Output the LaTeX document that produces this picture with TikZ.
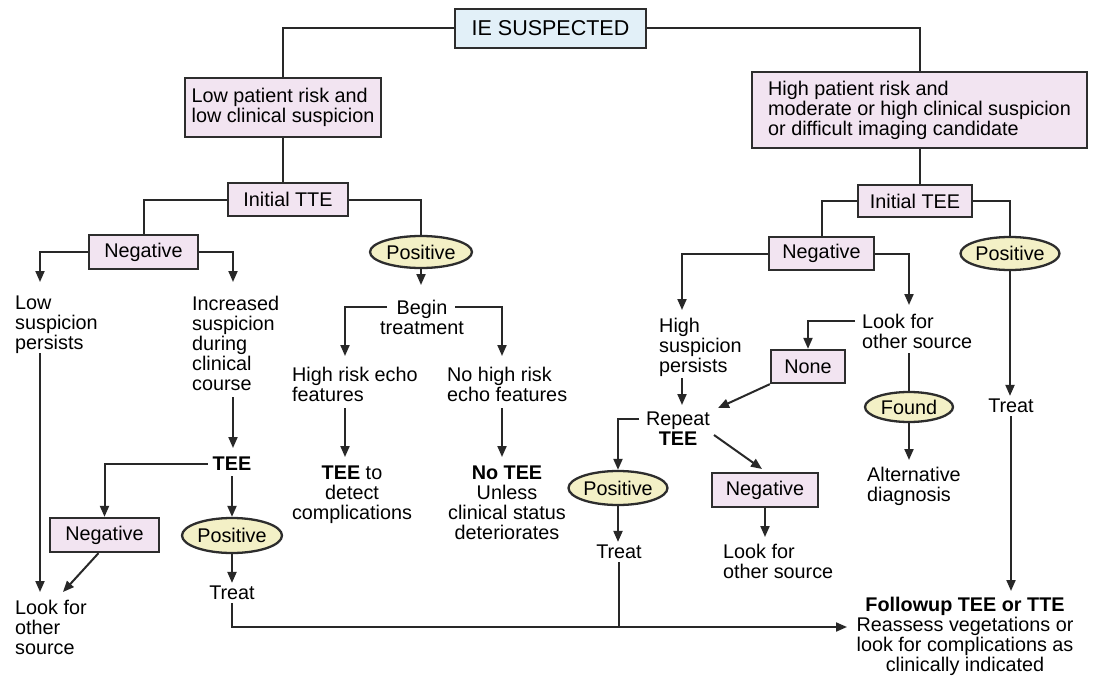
\documentclass[tikz,border=0pt]{standalone}
\usepackage{fontspec}
\setmainfont{Liberation Sans}
\usetikzlibrary{arrows.meta,shapes.geometric,calc}
\definecolor{boxc}{RGB}{242,228,241}
\definecolor{ellc}{RGB}{243,240,198}
\definecolor{titc}{RGB}{226,240,248}
\definecolor{bordc}{RGB}{45,45,45}
\definecolor{linec}{RGB}{40,40,40}
\newcommand\myfs{\fontsize{19.8}{20}\selectfont}
\newcommand\mytitfs{\fontsize{21.5}{24}\selectfont}
\tikzset{
  pbox/.style={draw=bordc, line width=2.3pt, fill=boxc, inner sep=0pt, font=\myfs},
  pell/.style={ellipse, draw=bordc, line width=2.3pt, fill=ellc, inner sep=0pt, font=\myfs},
  txt/.style={inner sep=0pt, font=\myfs, align=left, anchor=north west},
  ctxt/.style={inner sep=0pt, font=\myfs, align=center, anchor=north},
  word/.style={inner sep=3pt, font=\myfs},
  conn/.style={line width=2pt, draw=linec},
  arr/.style={conn, -{Triangle[length=11pt,width=9pt]}},
}
\begin{document}
\begin{tikzpicture}[x=1pt,y=-1pt]
\useasboundingbox (0,0) rectangle (1096,677);

% boxes
\node[pbox, fill=titc, font=\mytitfs, minimum width=191pt, minimum height=39pt] (title) at (550.5,28.5) {IE SUSPECTED};
\node[pbox, minimum width=196pt, minimum height=59pt, align=left] (low) at (283,107.5) {Low patient risk and\\low clinical suspicion};
\node[pbox, minimum width=335pt, minimum height=76pt, align=left] (high) at (919.5,110) {High patient risk and\\moderate or high clinical suspicion\\or difficult imaging candidate};
\node[pbox, minimum width=120pt, minimum height=33pt] (itte) at (288,199.5) {Initial TTE};
\node[pbox, minimum width=114pt, minimum height=32pt] (itee) at (915,201) {Initial TEE};
\node[pbox, minimum width=109pt, minimum height=34pt] (neg1) at (143.5,252) {Negative};
\node[pell, minimum width=102pt, minimum height=32pt] (pos1) at (421,252) {Positive};
\node[pbox, minimum width=105pt, minimum height=33pt] (neg2) at (821.5,253.5) {Negative};
\node[pell, minimum width=99pt, minimum height=33pt] (pos2) at (1010,253.5) {Positive};
\node[pbox, minimum width=109pt, minimum height=34pt] (neg3) at (104.5,535) {Negative};
\node[pell, minimum width=100pt, minimum height=35pt] (pos3) at (232,535.5) {Positive};
\node[pbox, minimum width=74pt, minimum height=33pt] (none) at (808,366.5) {None};
\node[pell, minimum width=88pt, minimum height=30pt] (found) at (909,407) {Found};
\node[pell, minimum width=99pt, minimum height=34pt] (pos4) at (618,488) {Positive};
\node[pbox, minimum width=106pt, minimum height=34pt] (neg4) at (765,490) {Negative};

% texts
\node[txt] (lowsus) at (15,296) {Low\\suspicion\\persists};
\node[txt] (incsus) at (192,296) {Increased\\suspicion\\during\\clinical\\course};
\node[ctxt] (begin) at (422,300) {Begin\\treatment};
\node[txt] (hrisk) at (292,367) {High risk echo\\features};
\node[txt] (nohrisk) at (447,367) {No high risk\\echo features};
\node[ctxt] (teedet) at (352,466) {\textbf{TEE} to\\detect\\complications};
\node[ctxt] (notee) at (507,466) {\textbf{No TEE}\\Unless\\clinical status\\deteriorates};
\node[word, inner sep=5pt] (tee1) at (232,464) {\textbf{TEE}};
\node[word] (treat1) at (232,593) {Treat};
\node[txt] (look1) at (15,600) {Look for\\other\\source};
\node[txt] (hsp) at (659,318) {High\\suspicion\\persists};
\node[txt] (look2) at (862,314) {Look for\\other source};
\node[txt] (altdx) at (867,467) {Alternative\\diagnosis};
\node[word] (treat2) at (1011,406) {Treat};
\node[ctxt] (repeat) at (678,412) {Repeat\\\textbf{TEE}};
\node[word] (treat3) at (619,552) {Treat};
\node[txt] (look3) at (723,544) {Look for\\other source};
\node[ctxt] (follow) at (965,597) {\textbf{Followup TEE or TTE}\\Reassess vegetations or\\look for complications as\\clinically indicated};

% junction coordinates
\coordinate (e1) at (40,282);
\coordinate (e2) at (233,282);
\coordinate (e3) at (421,285);
\coordinate (b1) at (387,307);
\coordinate (e4) at (345,356);
\coordinate (b2) at (455,307);
\coordinate (e5) at (502,356);
\coordinate (s6) at (345,408);
\coordinate (e6) at (345,457);
\coordinate (s7) at (502,408);
\coordinate (e7) at (502,457);
\coordinate (s8) at (40,353);
\coordinate (e8) at (40,592);
\coordinate (s9) at (233,397);
\coordinate (e9) at (233,448);
\coordinate (e10) at (63,592);
\coordinate (fend) at (847,627);
\coordinate (e11) at (682,310);
\coordinate (e12) at (909,305);
\coordinate (l1) at (855,321);
\coordinate (e13) at (718,408);
\coordinate (s14) at (682,378);
\coordinate (e14) at (682,405);
\coordinate (s15) at (909,353);
\coordinate (e16) at (909,460);
\coordinate (e17) at (1011,591);
\coordinate (r1) at (639,419);
\coordinate (r2) at (714,435);
\coordinate (e18) at (762,469);
\coordinate (e19) at (765,537);

% connectors
\draw[conn] (title.west) -| (low.north);
\draw[conn] (title.east) -| (high.north);
\draw[conn] (low.south) -- (low.south |- itte.north);
\draw[conn] (high.south) -- (high.south |- itee.north);
\draw[conn] (itte.west) -| (neg1.north);
\draw[conn] (itte.east) -| (pos1.north);
\draw[arr] (neg1.west) -| (e1);
\draw[arr] (neg1.east) -| (e2);
\draw[arr] (pos1.south) -- (pos1.south |- e3);
\draw[arr] (b1) -| (e4);
\draw[arr] (b2) -| (e5);
\draw[arr] (s6) -- (e6);
\draw[arr] (s7) -- (e7);
\draw[arr] (s8) -- (e8);
\draw[arr] (s9) -- (e9);
\draw[arr] (tee1.west) -| (neg3.north);
\draw[arr] (tee1.south) -- (tee1.south |- pos3.north);
\draw[arr] ([xshift=-6pt]neg3.south) -- (e10);
\draw[arr] (pos3.south) -- (pos3.south |- treat1.north);
\draw[arr] (treat1.south) |- (fend);
\draw[conn] (treat3.south) -- (treat3.south |- fend);
\draw[conn] (itee.west) -| (neg2.north);
\draw[conn] (itee.east) -| (pos2.north);
\draw[arr] (neg2.west) -| (e11);
\draw[arr] (neg2.east) -| (e12);
\draw[arr] (l1) -| (none.north);
\draw[arr] (none.south west) -- (e13);
\draw[arr] (s14) -- (e14);
\draw[conn] (s15) -- (found.north);
\draw[arr] (found.south) -- (e16);
\draw[arr] (pos2.south) -- (pos2.south |- treat2.north);
\draw[arr] (treat2.south) -- (treat2.south |- e17);
\draw[arr] (r1) -| (pos4.north);
\draw[arr] (r2) -- (e18);
\draw[arr] (pos4.south) -- (pos4.south |- treat3.north);
\draw[arr] (neg4.south) -- (e19);
\end{tikzpicture}
\end{document}
